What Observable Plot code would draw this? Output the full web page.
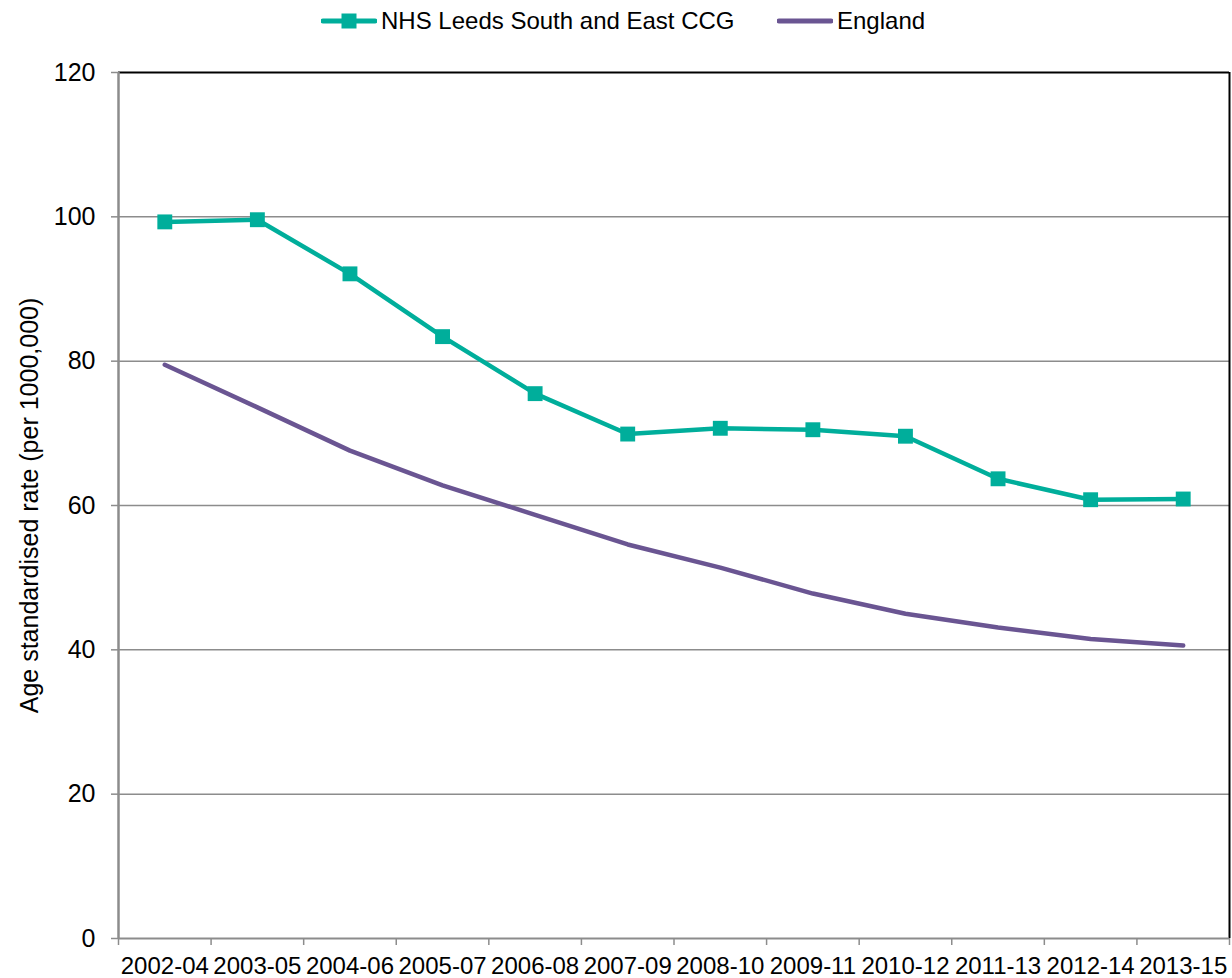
<!DOCTYPE html>
<html>
<head>
<meta charset="utf-8">
<script src="https://cdn.jsdelivr.net/npm/d3@7"></script>
<script src="https://cdn.jsdelivr.net/npm/@observablehq/plot@0.6"></script>
<style>
  html, body { margin: 0; padding: 0; background: #fff; }
  body { width: 1232px; height: 978px; overflow: hidden; font-family: "Liberation Sans", Arial, sans-serif; }
  #legend { position: relative; height: 45px; width: 1232px; font-size: 24px; color: #000; }
  .item { position: absolute; top: 6px; display: flex; align-items: center; height: 30px; }
  .item svg { display: block; margin-right: 4px; }
  #chart svg { display: block; }
</style>
</head>
<body>
<div id="legend"></div>
<div id="chart"></div>
<script>
const categories = ["2002-04","2003-05","2004-06","2005-07","2006-08","2007-09","2008-10","2009-11","2010-12","2011-13","2012-14","2013-15"];
const leedsValues = [99.3, 99.6, 92.1, 83.4, 75.5, 69.9, 70.7, 70.5, 69.6, 63.7, 60.8, 60.9];
const englandValues = [79.5, 73.6, 67.6, 62.8, 58.7, 54.6, 51.4, 47.8, 45.0, 43.1, 41.5, 40.6];
const yTicks = [0, 20, 40, 60, 80, 100, 120];
const seriesNames = ["NHS Leeds South and East CCG", "England"];
const colors = ["#00ae9b", "#6a5592"];

const leeds = categories.map((c, i) => ({pos: i + 0.5, value: leedsValues[i]}));
const england = categories.map((c, i) => ({pos: i + 0.5, value: englandValues[i]}));

// Legend
const legend = document.getElementById("legend");
const lx = [321, 777];
seriesNames.forEach((name, k) => {
  const it = document.createElement("div");
  it.className = "item";
  it.style.left = lx[k] + "px";
  const w = 56;
  let sym = `<svg width="${w}" height="20"><line x1="2" y1="10" x2="${w-2}" y2="10" stroke="${colors[k]}" stroke-width="5" stroke-linecap="round"/>`;
  if (k === 0) sym += `<rect x="${w/2-7.5}" y="2.5" width="15" height="15" fill="${colors[k]}"/>`;
  sym += `</svg>`;
  it.innerHTML = sym + `<span>${name}</span>`;
  legend.appendChild(it);
});

const chart = Plot.plot({
  width: 1232,
  height: 933,
  marginLeft: 118,
  marginRight: 3,
  marginTop: 27,
  marginBottom: 40,
  style: {fontFamily: "Liberation Sans, Arial, sans-serif", color: "#000", background: "#fff"},
  x: {type: "linear", domain: [0, categories.length], label: null},
  y: {domain: [0, 120]},
  marks: [
    Plot.gridY(yTicks.filter(d => d > 0 && d < 120), {stroke: "#8c8c8c", strokeOpacity: 1, strokeWidth: 1.5}),
    // frame top & right (black)
    Plot.ruleY([120], {stroke: "#000", strokeWidth: 2}),
    Plot.ruleX([categories.length], {stroke: "#000", strokeWidth: 2}),
    // left & bottom axes (gray)
    Plot.ruleX([0], {stroke: "#8c8c8c", strokeWidth: 2.5}),
    Plot.ruleY([0], {stroke: "#8c8c8c", strokeWidth: 2}),
    Plot.axisY({ticks: yTicks, tickSize: 7, tickPadding: 16, fontSize: 25, stroke: "#8c8c8c", strokeWidth: 1.5,
      label: "Age standardised rate (per 1000,000)", labelAnchor: "center", labelArrow: "none", labelOffset: 98}),
    Plot.axisX({ticks: d3.range(categories.length + 1), tickFormat: () => "", tickSize: 7, stroke: "#8c8c8c", strokeWidth: 1.5, label: null}),
    Plot.axisX({ticks: d3.range(categories.length).map(i => i + 0.5), tickFormat: d => categories[Math.round(d - 0.5)], tickSize: 0, tickPadding: 18, fontSize: 24, label: null}),
    Plot.line(england, {x: "pos", y: "value", stroke: colors[1], strokeWidth: 4.5, strokeLinecap: "round"}),
    Plot.line(leeds, {x: "pos", y: "value", stroke: colors[0], strokeWidth: 4.5}),
    Plot.dot(leeds, {x: "pos", y: "value", symbol: "square", r: 8.4, fill: colors[0], stroke: "none"})
  ]
});
document.getElementById("chart").appendChild(chart);
</script>
</body>
</html>
